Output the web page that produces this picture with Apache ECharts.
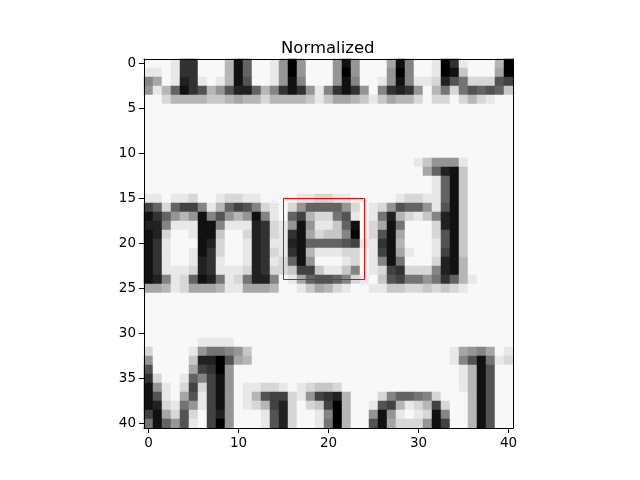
<!DOCTYPE html>
<html>
<head>
<meta charset="utf-8">
<script src="https://cdn.jsdelivr.net/npm/echarts@6/dist/echarts.min.js"></script>
<style>
html,body{margin:0;padding:0;background:#fff;}
#chart{width:640px;height:480px;}
</style>
</head>
<body>
<div id="chart"></div>
<script>
// ---- data ----
const chartTitle = 'Normalized';
const categories = ['0','1','2','3','4','5','6','7','8','9','10','11','12','13','14','15','16','17','18','19','20',
  '21','22','23','24','25','26','27','28','29','30','31','32','33','34','35','36','37','38','39','40'];
const xTickLabels = ['0','10','20','30','40'];
const yTickLabels = ['0','5','10','15','20','25','30','35','40'];
// pixel intensities, one hex digit per cell (0 = black, f = white), grouped by 10 columns
const pixelRows = [
  'fffe33fffb 16ffe909ff f919fffa18 ffe03efffb 0',
  'eefe33fffb 16ffe909ff f909fff908 ffe01cfffa 0',
  '8afe23efeb 15ffe918ff f918ffe918 eed257ddd5 4',
  '9eb6135b95 226b83139e 83139f8323 9fb7d75656 c',
  'ffdbbbbccb abbdbbbbce caabcecabb dfddfdbdef f',
  'ffffffffff ffffffffff ffffffffff ffffffffff f',
  'ffffffffff ffffffffff ffffffffff ffffffffff f',
  'ffffffffff ffffffffff ffffffffff ffffffffff f',
  'ffffffffff ffffffffff ffffffffff ffffffffff f',
  'ffffffffff ffffffffff ffffffffff ffffffffff f',
  'ffffffffff ffffffffff ffffffffff ffffffffff f',
  'ffffffffff ffffffffff ffffffffff ec999effff f',
  'ffffffffff ffffffffff ffffffffff fa621cffff f',
  'ffffffffff ffffffffff ffffffffff ffe61cffff f',
  'ffffffffff ffffffffff ffffffffff ffe61cffff f',
  'eefeedffed deeffffeed deefffffed dee61cffff f',
  '46d6448eb6 458defd966 669dfed956 69e51cffff f',
  '1369b91859 b918ef64bd d75efe72bd ec821cffff f',
  '228eee118e ee23de919e ec61fda17f ffd21cffff f',
  '12dffe11cf fd23de31ad cc80fd51af ffd51cffff f',
  '13efff12df fe23ee2166 6654ee31bf ffe51cffff f',
  '13effe13df fe23de31be eeddfe41ae ffe41cffff f',
  '13effe23ef fe23ed619f ffedfe817f ffd21bffff f',
  '13eeed23ee ed23ddc44c eec8fed43d dd821bffff f',
  '128ed6127e d7228fea65 568defc547 79736befff f',
  'aabedaaabe eaaabffeca bdeffeeccd dcdcdeffff f',
  'ffffffffff ffffffffff ffffffffff ffffffffff f',
  'ffffffffff ffffffffff ffffffffff ffffffffff f',
  'ffffffffff ffffffffff ffffffffff ffffffffff f',
  'ffffffffff ffffffffff ffffffffff ffffffffff f',
  'ffffffffff ffffffffff ffffffffff ffffffffff f',
  'ffffffeeee ffffffffff ffffffffff ffffffffff f',
  'dffffe9778 9cffffffff ffffffffff ffffea98af e',
  '9ffffc2205 abffffffff ffffffffff ffffe8517e d',
  '5ffffa4309 ffffffffff ffffffffff fffffeb15f f',
  '3dffe68419 ffffffffff ffffffffff fffffeb15f f',
  '19efd4d419 feeddefedc cdffffffff fffffeb15f f',
  '15efa5e419 feb544de94 32bfffd866 78dfffb15f f',
  '12de79e419 fedb42dfdc 40bffe54be db4dffb15f f',
  '41ad5df429 fffe52dffe 80bff919ef ed18ffb15f f',
  '71695ef409 fffe52dffe 70bff51add d914ffb15f f'
];
// highlighted box corners in data coordinates: x0, y0, x1, y1
const boxCorners = [15, 15, 24, 24];

// ---- build series data ----
const heatData = [];
pixelRows.forEach(function (row, r) {
  const cells = row.replace(/\s+/g, '');
  for (let c = 0; c < cells.length; c++) {
    heatData.push([c, r, parseInt(cells[c], 16)]);
  }
});
const bx0 = String(boxCorners[0]), by0 = String(boxCorners[1]);
const bx1 = String(boxCorners[2]), by1 = String(boxCorners[3]);
const boxPath = [[bx0, by0], [bx1, by0], [bx1, by1], [bx0, by1], [bx0, by0]];

const FONT = 'DejaVu Sans';
const showX = function (i, v) { return xTickLabels.indexOf(v) >= 0; };
const showY = function (i, v) { return yTickLabels.indexOf(v) >= 0; };

function mainAxis(pos, filter, inverse) {
  return {
    type: 'category', data: categories, position: pos, inverse: inverse, z: 10,
    axisLine: { show: true, lineStyle: { color: '#000', width: 1 } },
    axisTick: { show: true, alignWithLabel: true, interval: filter, length: 5, lineStyle: { color: '#000', width: 1 } },
    axisLabel: { show: true, interval: filter, color: '#000', fontSize: 13.5, fontFamily: FONT, margin: 8 },
    splitLine: { show: false }, splitArea: { show: false }
  };
}
function frameAxis(pos, inverse) {
  return {
    type: 'category', data: categories, position: pos, inverse: inverse, z: 10,
    axisLine: { show: true, lineStyle: { color: '#000', width: 1 } },
    axisTick: { show: false }, axisLabel: { show: false },
    splitLine: { show: false }, splitArea: { show: false }
  };
}

const chart = echarts.init(document.getElementById('chart'), null, { renderer: 'canvas' });
chart.setOption({
  animation: false,
  backgroundColor: '#ffffff',
  title: {
    text: chartTitle, left: 276, top: 35,
    textStyle: { fontFamily: FONT, fontSize: 16.5, fontWeight: 'normal', color: '#000' }
  },
  grid: { left: 144, top: 59, width: 369, height: 369, containLabel: false },
  xAxis: [mainAxis('bottom', showX, false), frameAxis('top', false)],
  yAxis: [mainAxis('left', showY, true), frameAxis('right', true)],
  visualMap: {
    show: false, type: 'continuous', min: 0, max: 15.4, seriesIndex: 0,
    inRange: { color: ['#000000', '#ffffff'] }
  },
  series: [
    {
      type: 'heatmap', xAxisIndex: 0, yAxisIndex: 0, data: heatData,
      progressive: 0, emphasis: { disabled: true }, silent: true
    },
    {
      type: 'line', xAxisIndex: 0, yAxisIndex: 0, data: boxPath, z: 5,
      symbol: 'none', silent: true,
      lineStyle: { color: '#ff0000', width: 1 }, itemStyle: { color: '#ff0000' }
    }
  ]
});
</script>
</body>
</html>
